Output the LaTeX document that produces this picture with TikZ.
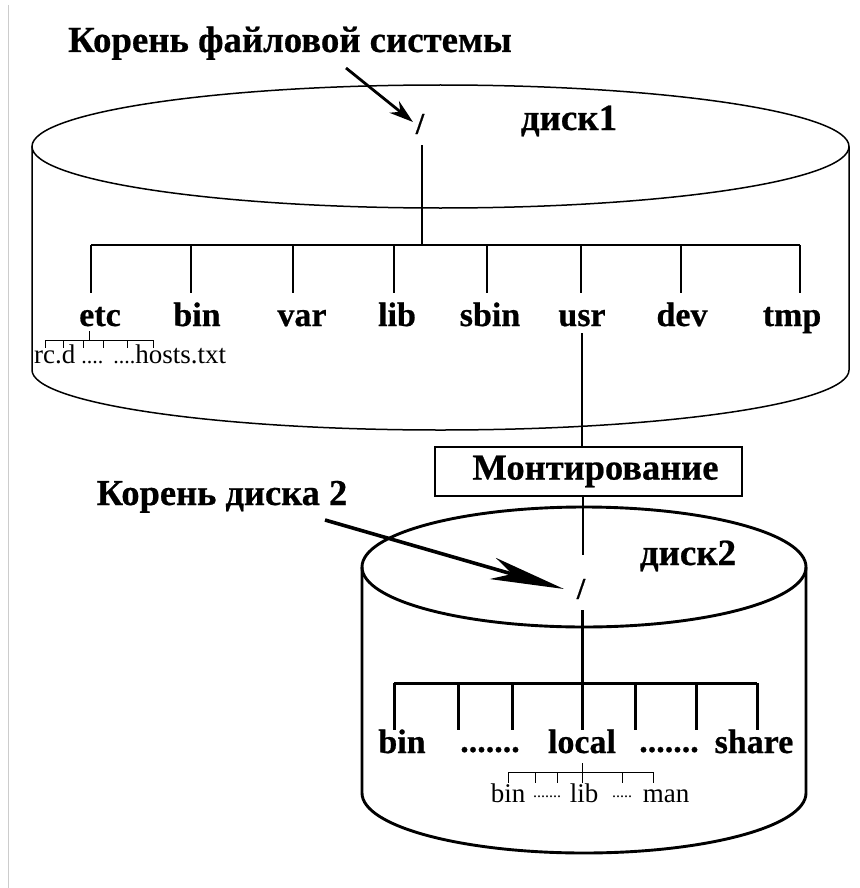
\documentclass[tikz,border=0pt]{standalone}
\usepackage{fontspec}
\setmainfont{Liberation Serif}[BoldFeatures={FakeBold=0.6}]
\usetikzlibrary{arrows.meta}

\begin{document}
\begin{tikzpicture}[x=1pt,y=-1pt,
  heading/.style={font=\fontsize{36.8}{42}\selectfont\bfseries, inner sep=0pt, anchor=base},
  dirname/.style={font=\fontsize{34}{40}\selectfont\bfseries, inner sep=0pt, anchor=base},
  disklabel/.style={font=\fontsize{37}{42}\selectfont\bfseries, inner sep=0pt, anchor=base},
  filename/.style={font=\fontsize{27}{30}\selectfont, inner sep=0pt, anchor=base},
  leader/.style={font=\fontsize{16}{18}\selectfont, inner sep=0pt, anchor=base},
  rootmark/.style={font=\fontsize{30}{32}\selectfont\bfseries, inner sep=0pt},
  diskone/.style={line width=1.5pt},
  disktwo/.style={line width=2.9pt},
  treeone/.style={line width=1.2pt},
  treetwo/.style={line width=3pt},
  twig/.style={line width=1pt},
  link/.style={line width=1.3pt}
]
\useasboundingbox (0,0) rectangle (859,888);
\draw[gray!40, line width=1pt] (8,5) -- (8,888);

% ---- disk 1 ----
\draw[diskone] (440.5,146.5) ellipse[x radius=408.5pt, y radius=61.5pt];
\draw[diskone] (32,146.5) -- (32,370)
  arc[start angle=180, end angle=360, x radius=408.5pt, y radius=60pt] -- (849,146.5);

\node[heading] (title1) at (290,52) {Корень файловой системы};
\node[disklabel] (disk1lbl) at (569,130) {диск1};
\node[rootmark] (root1) at (420,124) {/};
\coordinate (a1s) at (346,68);
\coordinate (a1e) at (413,122);
\draw[line width=2.8pt, -{Stealth[length=24pt,width=15pt]}] (a1s) -- (a1e);

% top-level directories
\coordinate (r1b) at (422,145);
\coordinate (j1) at (422,245);
\draw[treeone] (r1b) -- (j1);
\coordinate (bar1l) at (91,245);
\coordinate (bar1r) at (800,245);
\draw[treeone] (bar1l) -- (bar1r);
\foreach \x/\name/\lx in {91/etc/100, 191/bin/197, 293/var/302, 394/lib/397,
                          487/sbin/490, 581/usr/582, 681/dev/682, 800/tmp/792}{
  \node[dirname] (d-\name) at (\lx,326) {\name};
  \coordinate (s-\name) at (\x,245);
  \draw[treeone] (s-\name) -- ++(0,48);
}

% contents of etc
\coordinate (etcj) at (89,340);
\draw[twig] (89,331) -- (etcj);
\draw[twig] (45,340) -- (153,340);
\foreach \x in {45,63,83,103,127,153}{
  \draw[twig] (\x,340) -- ++(0,8);
}
\node[filename, anchor=base west] (etcfiles) at (34,363)
  {rc.d\hspace{6pt}{\fontsize{22}{22}\selectfont ....}\hspace{10pt}{\fontsize{22}{22}\selectfont ....}hosts.txt};

% ---- mount point ----
\node[draw, link, minimum width=307pt, minimum height=49pt, inner sep=0pt,
      font=\fontsize{36.5}{40}\selectfont\bfseries] (mount) at (588.5,471.5) {\hspace{14pt}Монтирование};
\coordinate (usrdown) at (582,333);
\draw[link] (usrdown) -- (usrdown |- mount.north);
\coordinate (mnt2) at (583,555);
\draw[link] (mount.south -| mnt2) -- (mnt2);

% ---- disk 2 ----
\draw[disktwo] (584,567) ellipse[x radius=222pt, y radius=60pt];
\draw[disktwo] (362,567) -- (362,793)
  arc[start angle=180, end angle=360, x radius=222pt, y radius=60pt] -- (806,567);

\node[dirname, font=\fontsize{36.5}{42}\selectfont\bfseries] (title2) at (222,505) {Корень диска 2};
\node[disklabel] (disk2lbl) at (688,565) {диск2};
\node[rootmark] (root2) at (581,589) {/};
\coordinate (a2s) at (325,520);
\coordinate (a2e) at (564,589);
\draw[line width=3.6pt, -{Stealth[length=74pt,width=22pt,inset=20pt]}] (a2s) -- (a2e);

% subdirectories of disk 2
\coordinate (r2b) at (582,610);
\coordinate (j2) at (582,683);
\draw[treetwo] (r2b) -- (j2);
\draw[treetwo] (394,683) -- (757,683);
\foreach \x in {394,458,512,582,635,696,757}{
  \draw[treetwo] (\x,683) -- ++(0,47);
}
\node[dirname] (e-bin) at (402,753) {bin};
\node[dirname] (e-dots1) at (490,752) {.......};
\node[dirname] (e-local) at (582,753) {local};
\node[dirname] (e-dots2) at (669,752) {.......};
\node[dirname] (e-share) at (754,753) {share};

% contents of local
\coordinate (locj) at (582,772);
\draw[twig] (582,763) -- (locj);
\draw[twig] (508,772) -- (653,772);
\foreach \x in {508,535,557,582,622,653}{
  \draw[twig] (\x,772) -- ++(0,11);
}
\node[filename] (f-bin) at (508,802) {bin};
\node[leader] (f-dots1) at (547,797) {.......};
\node[filename] (f-lib) at (584,802) {lib};
\node[leader] (f-dots2) at (622,797) {.....};
\node[filename] (f-man) at (666,802) {man};
\end{tikzpicture}
\end{document}
